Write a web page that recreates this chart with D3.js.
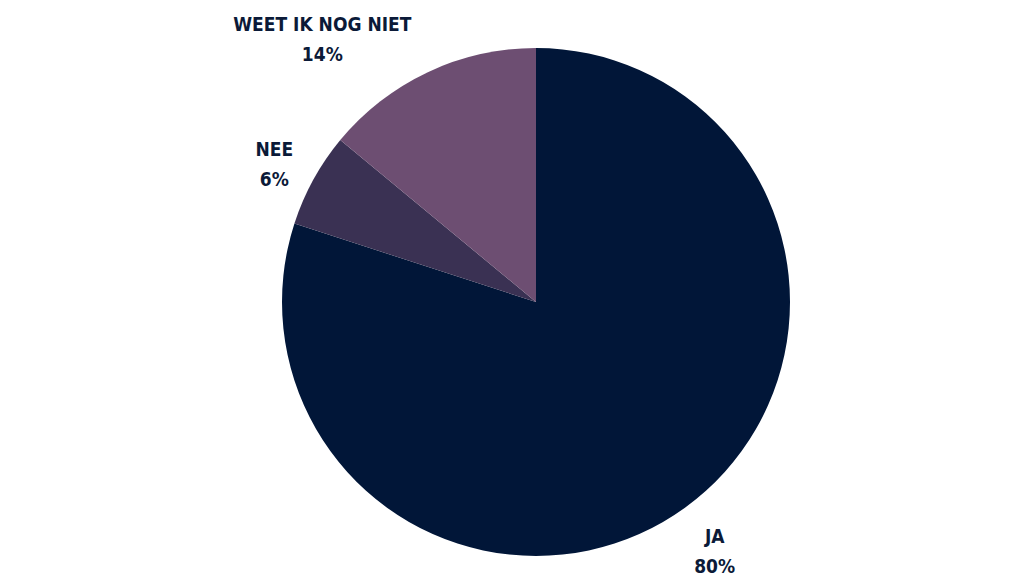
<!DOCTYPE html>
<html>
<head>
<meta charset="utf-8">
<script src="https://cdn.jsdelivr.net/npm/d3@7"></script>
<style>
  body { margin: 0; background: #fff; }
  svg { display: block; }
  .lbl { font-family: "DejaVu Sans", sans-serif; font-stretch: condensed; font-weight: bold; font-size: 19px; fill: #0b1a38; }
</style>
</head>
<body>
<svg width="1024" height="576"></svg>
<script>
var categories = ["Ja", "Nee", "Weet ik nog niet"];
var values = [80, 6, 14];
var colors = ["#011638", "#3a3153", "#6d4e72"];

var svg = d3.select("svg"),
    cx = 536, cy = 302, radius = 254;

var data = categories.map(function(c, i) { return {name: c, value: values[i], color: colors[i]}; });

var pie = d3.pie().sort(null).value(function(d) { return d.value; });
var arc = d3.arc().innerRadius(0).outerRadius(radius);

var g = svg.append("g").attr("transform", "translate(" + cx + "," + cy + ")");

var arcs = pie(data);

g.selectAll("path")
    .data(arcs)
    .enter().append("path")
    .attr("d", arc)
    .attr("fill", function(d) { return d.data.color; });

// labels sit just outside each slice, nudged like the original
var labelArc = {
  "Ja": d3.arc().innerRadius(radius + 50).outerRadius(radius + 50),
  "Nee": d3.arc().innerRadius(radius + 40).outerRadius(radius + 40),
  "Weet ik nog niet": d3.arc().innerRadius(radius + 60).outerRadius(radius + 60)
};
var labelOffset = { "Ja": [0, -5], "Nee": [-4, -4], "Weet ik nog niet": [-80, 13] };

arcs.forEach(function(d) {
  var p = labelArc[d.data.name].centroid(d);
  var o = labelOffset[d.data.name];
  var t = g.append("text")
      .attr("class", "lbl")
      .attr("text-anchor", "middle")
      .attr("x", p[0] + o[0])
      .attr("y", p[1] + o[1]);
  t.append("tspan").attr("x", p[0] + o[0]).attr("dy", 0).text(d.data.name.toUpperCase());
  t.append("tspan").attr("x", p[0] + o[0]).attr("dy", 30).text(d.data.value + "%");
});
</script>
</body>
</html>
